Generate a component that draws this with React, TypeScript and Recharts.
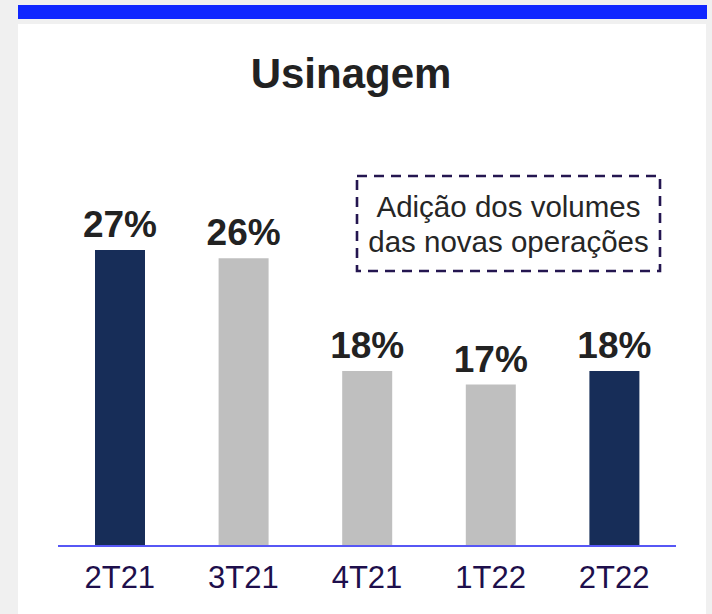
import { BarChart, Bar, XAxis, YAxis, Cell, LabelList } from 'recharts'

const quarters = ['2T21', '3T21', '4T21', '1T22', '2T22']
const usinagem = [27, 26.4, 18, 17, 18]
const barColors = ['#172d58', '#bfbfbf', '#bfbfbf', '#bfbfbf', '#172d58']
const note = ['Adição dos volumes', 'das novas operações']

const data = quarters.map((q, i) => ({ q, v: usinagem[i] }))

const font = 'Arial, "Liberation Sans", Helvetica, sans-serif'

export default function App() {
  return (
    <div style={{ position: 'fixed', left: 0, top: 0, width: 712, height: 614, background: '#f0f0f0', fontFamily: font, overflow: 'hidden' }}>
      <div style={{ position: 'absolute', left: 18, top: 5, width: 689, height: 14, background: '#0f26ff' }} />
      <div style={{ position: 'absolute', left: 18, top: 24, width: 688, height: 590, background: '#fff' }} />
      <div style={{ position: 'absolute', left: 0, top: 50, width: 702, textAlign: 'center', fontSize: 42, fontWeight: 700, color: '#222' }}>
        Usinagem
      </div>
      <div style={{ position: 'absolute', left: 0, top: 0 }}>
        <BarChart width={712} height={614} data={data} margin={{ top: 209.7, right: 36, bottom: 0, left: 58 }} barSize={50}>
          <XAxis dataKey="q" height={68} tickSize={0} tickMargin={20}
            axisLine={{ stroke: '#5757f5', strokeWidth: 2 }} tickLine={false}
            tick={{ fill: '#1e0f4c', fontSize: 31, fontFamily: font }} />
          <YAxis hide domain={[5, 30]} />
          <Bar dataKey="v" isAnimationActive={false}>
            {data.map((d, i) => <Cell key={d.q} fill={barColors[i]} />)}
            <LabelList dataKey="v" position="top" offset={13}
              formatter={(v: any) => `${Math.round(v)}%`}
              style={{ fill: '#222', fontSize: 37, fontWeight: 700, fontFamily: font }} />
          </Bar>
        </BarChart>
      </div>
      {/* note box, dashed border drawn as svg so the dash length matches */}
      <svg style={{ position: 'absolute', left: 355, top: 174 }} width={308} height={100}>
        <rect x={2} y={2} width={303} height={95} fill="none" stroke="#241650" strokeWidth={2.6} strokeDasharray="10 7" />
      </svg>
      <div style={{ position: 'absolute', left: 357, top: 177, width: 303, height: 94, display: 'flex', flexDirection: 'column',
        justifyContent: 'center', alignItems: 'center', fontSize: 29.5, lineHeight: '35px', color: '#262626' }}>
        {note.map(l => <div key={l}>{l}</div>)}
      </div>
    </div>
  )
}
